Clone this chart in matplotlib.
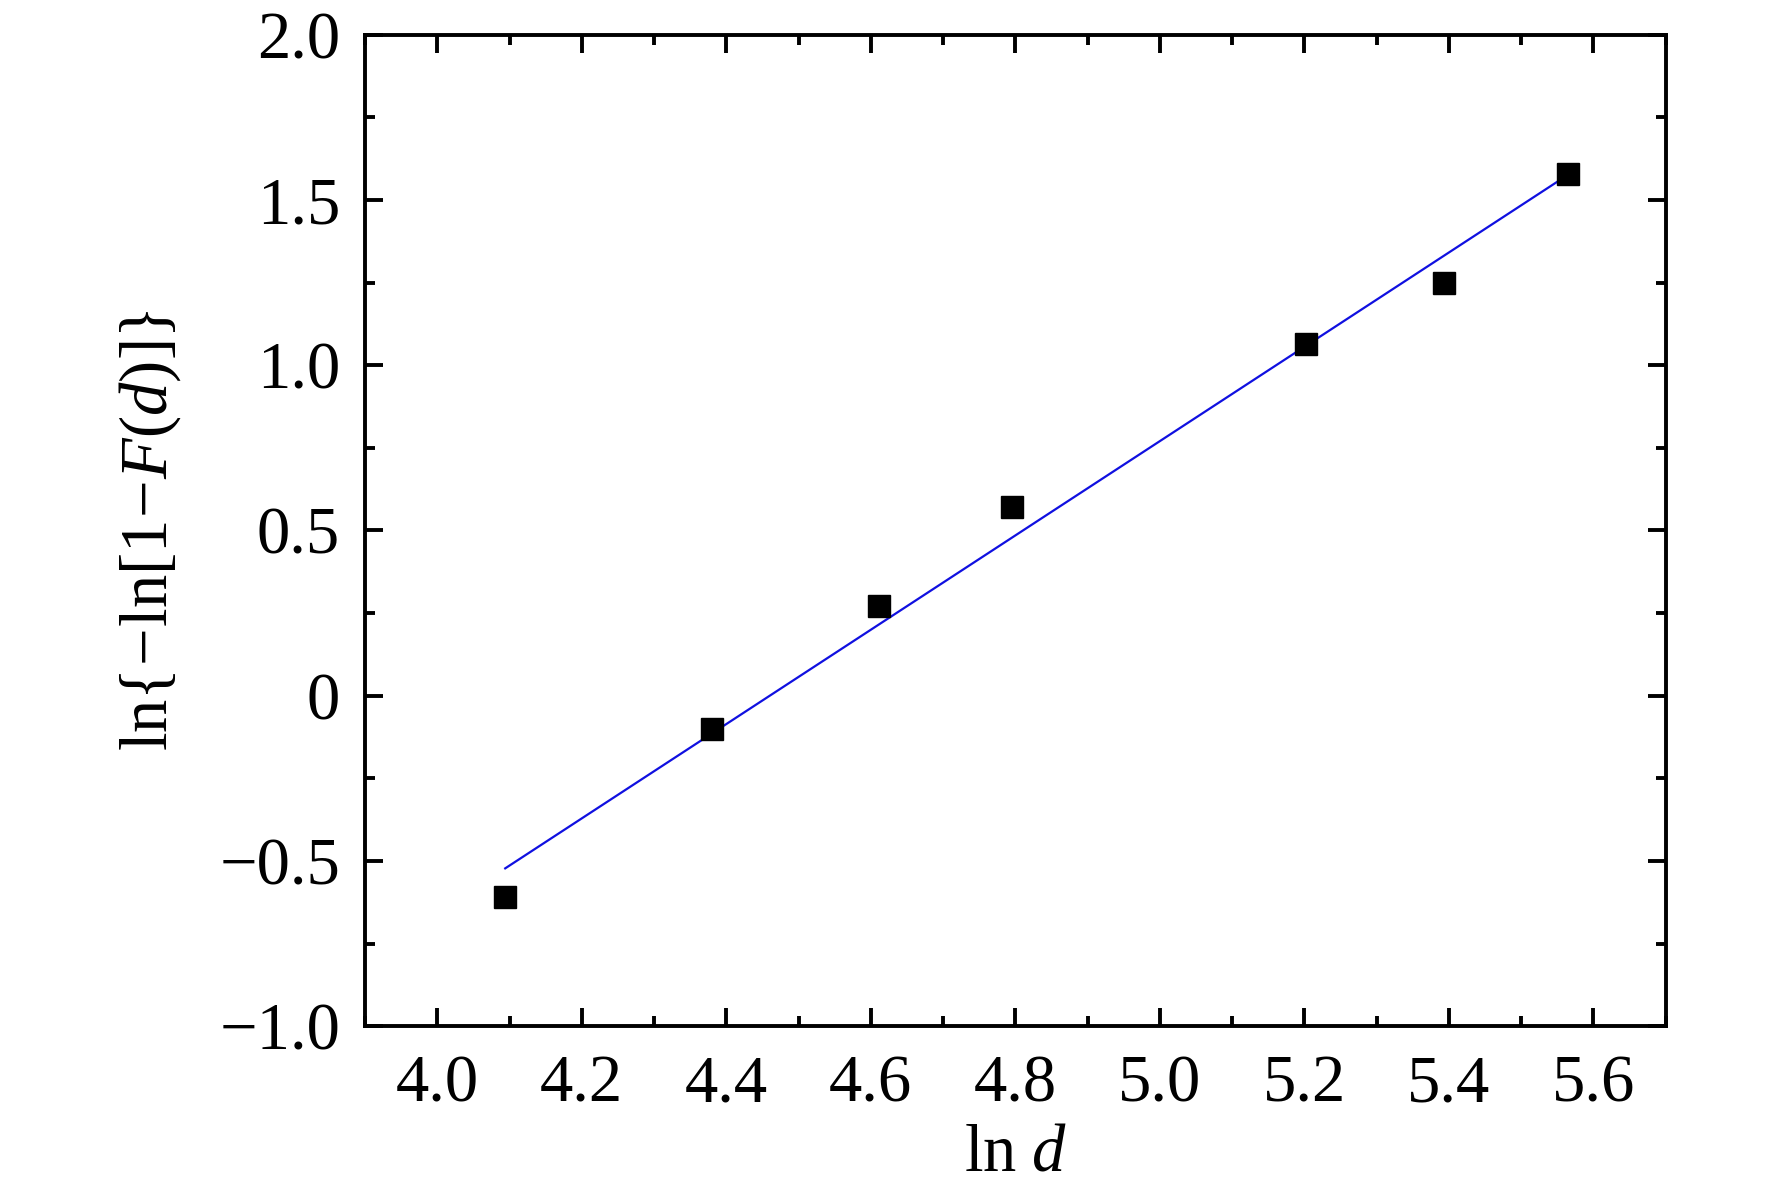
import numpy as np
import matplotlib
matplotlib.use("Agg")
import matplotlib.pyplot as plt
from matplotlib.ticker import MultipleLocator

# measured points: ln d vs ln{-ln[1-F(d)]}
ln_d = [4.094, 4.380, 4.611, 4.795, 5.202, 5.393, 5.565]
ln_ln = [-0.608, -0.102, 0.270, 0.571, 1.063, 1.250, 1.578]

x_ticks = [4.0, 4.2, 4.4, 4.6, 4.8, 5.0, 5.2, 5.4, 5.6]
y_ticks = [-1.0, -0.5, 0.0, 0.5, 1.0, 1.5, 2.0]
y_tick_labels = ['\u22121.0', '\u22120.5', '0', '0.5', '1.0', '1.5', '2.0']

plt.rcParams['font.family'] = ['Liberation Serif', 'DejaVu Serif']
plt.rcParams['mathtext.fontset'] = 'custom'
plt.rcParams['mathtext.rm'] = 'Liberation Serif'
plt.rcParams['mathtext.it'] = 'Liberation Serif:italic'

fig = plt.figure(figsize=(17.72, 11.92), dpi=100)
ax = fig.add_axes([0.206, 0.139, 0.734, 0.832])

# linear fit through the points
k, b = np.polyfit(ln_d, ln_ln, 1)
xv = np.array([min(ln_d), max(ln_d)])
ax.plot(xv, k * xv + b, c='#1010e0', lw=1.6, zorder=2)

ax.plot(ln_d, ln_ln, 's', c='black', ms=16, zorder=3)

ax.set_xlim(3.9, 5.7)
ax.set_ylim(-1.0, 2.0)
ax.set_xticks(x_ticks)
ax.set_xticklabels(['%.1f' % v for v in x_ticks])
ax.set_yticks(y_ticks)
ax.set_yticklabels(y_tick_labels)
ax.xaxis.set_minor_locator(MultipleLocator(0.1))
ax.yaxis.set_minor_locator(MultipleLocator(0.25))

ax.tick_params(which='both', direction='in', top=True, right=True,
               width=2.8, labelsize=48)
ax.tick_params(axis='x', which='both', pad=20)
ax.tick_params(axis='y', which='both', pad=18)
ax.tick_params(which='major', length=13)
ax.tick_params(which='minor', length=7)
for s in ax.spines.values():
    s.set_linewidth(2.8)

ax.set_xlabel(r'$\mathrm{ln}\ {d}$', fontsize=48, labelpad=6)
ax.set_ylabel(r'$\mathrm{ln}\{\!-\!\mathrm{ln}[1\!-\!F(d)]\}$', fontsize=48, labelpad=26)

fig.savefig('out.png', dpi=100)
